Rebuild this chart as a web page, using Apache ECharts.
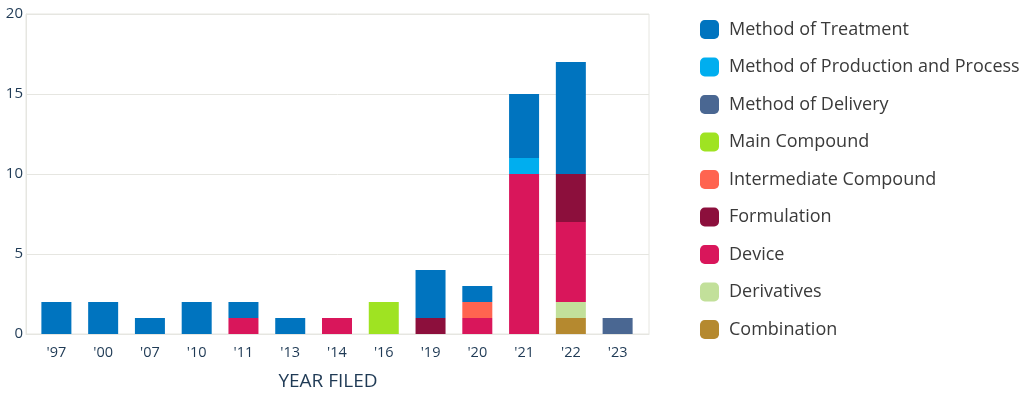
<!DOCTYPE html>
<html><head><meta charset="utf-8">
<script src="https://cdn.jsdelivr.net/npm/echarts@6/dist/echarts.min.js"></script>
<style>html,body{margin:0;padding:0;background:#fff}#c{width:1024px;height:396px}</style>
</head><body><div id="c"></div>
<script>
const categories = ["'97","'00","'07","'10","'11","'13","'14","'16","'19","'20","'21","'22","'23"];
const combination  = [0,0,0,0,0,0,0,0,0,0,0,1,0];
const derivatives  = [0,0,0,0,0,0,0,0,0,0,0,1,0];
const device       = [0,0,0,0,1,0,1,0,0,1,10,5,0];
const formulation  = [0,0,0,0,0,0,0,0,1,0,0,3,0];
const intermediate = [0,0,0,0,0,0,0,0,0,1,0,0,0];
const mainCompound = [0,0,0,0,0,0,0,2,0,0,0,0,0];
const delivery     = [0,0,0,0,0,0,0,0,0,0,0,0,1];
const production   = [0,0,0,0,0,0,0,0,0,0,1,0,0];
const treatment    = [2,2,1,2,1,1,0,0,3,1,4,7,0];
const yTicks = [0,5,10,15,20];

const stackSeries = [
  ['Combination', combination, '#B5892F'],
  ['Derivatives', derivatives, '#C2E09A'],
  ['Device', device, '#D9165B'],
  ['Formulation', formulation, '#8C0F3C'],
  ['Intermediate Compound', intermediate, '#FF6450'],
  ['Main Compound', mainCompound, '#9FE322'],
  ['Method of Delivery', delivery, '#4A6792'],
  ['Method of Production and Process', production, '#00AEEF'],
  ['Method of Treatment', treatment, '#0074BF']
];
const font = '"Open Sans", Lato, sans-serif';
const lineCol = '#e6e6e1';
const txtCol = '#1f3a55';
const chart = echarts.init(document.getElementById('c'));
chart.setOption({
  animation: false,
  grid: [
    {left: 26, right: 375, top: 14, bottom: 62, show: true, borderColor: lineCol, borderWidth: 1},
    {left: 33, right: 383, top: 14, bottom: 62}
  ],
  legend: {
    orient: 'vertical', left: 695, top: 15,
    itemWidth: 19, itemHeight: 19, itemGap: 18.5,
    icon: 'roundRect',
    data: stackSeries.map(s => s[0]).reverse(),
    textStyle: {fontSize: 18, color: '#3a3a3a', fontFamily: font, padding: [0,0,0,5]}
  },
  xAxis: [
    {gridIndex: 0, type: 'category', data: [''], axisLine: {lineStyle: {color: lineCol}},
     axisTick: {show: false}, axisLabel: {show: false}},
    {gridIndex: 1, type: 'category', data: categories,
     name: 'YEAR FILED', nameLocation: 'middle', nameGap: 38,
     nameTextStyle: {fontSize: 19, color: txtCol, fontFamily: font, padding: [0, 18, 0, 0]},
     axisLine: {show: false}, axisTick: {show: false},
     axisLabel: {fontSize: 14.5, color: txtCol, fontFamily: font, margin: 11}}
  ],
  yAxis: [
    {gridIndex: 0, type: 'value', min: 0, max: 20, interval: 5,
     axisLine: {show: true, lineStyle: {color: lineCol}},
     splitLine: {lineStyle: {color: lineCol}},
     axisLabel: {fontSize: 15, color: txtCol, fontFamily: font, margin: 3,
       formatter: v => yTicks.includes(v) ? String(v) : ''}},
    {gridIndex: 1, type: 'value', min: 0, max: 20, interval: 5, show: false}
  ],
  series: stackSeries.map(s => ({
    name: s[0], type: 'bar', stack: 'all', data: s[1], barWidth: 30,
    xAxisIndex: 1, yAxisIndex: 1,
    itemStyle: {color: s[2]}
  }))
});
</script></body></html>
